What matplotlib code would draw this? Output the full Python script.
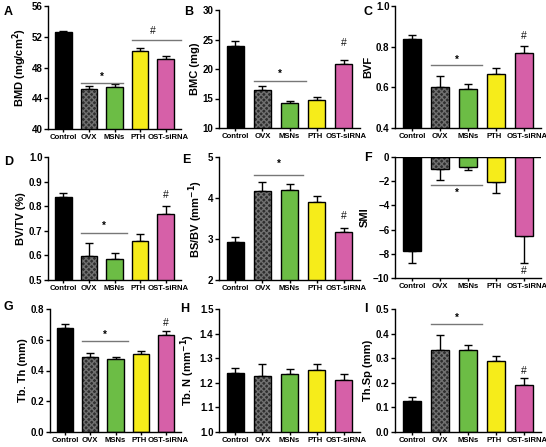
import matplotlib.pyplot as plt

plt.rcParams['font.family'] = ['Liberation Sans', 'DejaVu Sans']
plt.rcParams['font.weight'] = 'bold'

groups = ["Control", "OVX", "MSNs", "PTH", "OST-siRNA"]
colores = ["#000000", "#2e2e2e", "#6cbd45", "#f6ec1a", "#d660a8"]

bmd = [52.6, 45.2, 45.5, 50.2, 49.1]
bmd_err = [0.2, 0.4, 0.3, 0.3, 0.4]
bmc = [23.9, 16.5, 14.2, 14.8, 20.8]
bmc_err = [0.8, 0.7, 0.3, 0.5, 0.7]
bvf = [0.837, 0.600, 0.592, 0.665, 0.770]
bvf_err = [0.018, 0.055, 0.023, 0.028, 0.032]
bvtv = [0.837, 0.598, 0.587, 0.660, 0.770]
bvtv_err = [0.017, 0.053, 0.021, 0.028, 0.031]
bsbv = [2.93, 4.16, 4.20, 3.90, 3.16]
bsbv_err = [0.12, 0.23, 0.13, 0.14, 0.10]
smi = [-7.8, -1.0, -0.8, -2.05, -6.5]
smi_err = [1.0, 0.9, 0.3, 0.9, 2.25]
tbth = [0.676, 0.487, 0.475, 0.510, 0.633]
tbth_err = [0.024, 0.030, 0.016, 0.020, 0.022]
tbn = [1.238, 1.227, 1.234, 1.254, 1.213]
tbn_err = [0.023, 0.048, 0.021, 0.024, 0.022]
tbsp = [0.128, 0.335, 0.333, 0.287, 0.190]
tbsp_err = [0.015, 0.059, 0.022, 0.023, 0.030]

W, H = 546, 447
fig = plt.figure(figsize=(W / 100, H / 100), dpi=100)

# sideways nudges (points) so PTH / OST-siRNA labels don't collide
nudge = [0, 0, 0, -1.3, 1.9]

def panel(rect, letra, letra_xy, vals, errs, ylabel, ylim, yticks, star=None, hash_=None, neg=False):
    l, t, r, b = rect
    ax = fig.add_axes([l / W, 1 - b / H, (r - l) / W, (b - t) / H])
    x = list(range(len(groups)))
    ax.bar(x, vals, width=0.64, color=colores, edgecolor="#707070", linewidth=0, hatch=[None, "xxxxxx", None, None, None], zorder=2)
    ax.bar(x, vals, width=0.64, color="none", edgecolor="black", linewidth=1.0, zorder=3)
    zeros = [0] * len(vals)
    yerr = [errs, zeros] if neg else [zeros, errs]
    ax.errorbar(x, vals, yerr=yerr, fmt="none", ecolor="black", elinewidth=1.0, capsize=3, capthick=1.0, zorder=1)
    ax.set_xlim(-0.6, 4.6)
    ax.set_ylim(*ylim)
    ax.set_yticks(yticks)
    ax.set_xticks(x)
    ax.set_xticklabels([])
    for i, g in enumerate(groups):
        ax.annotate(g, xy=(i, 0), xycoords=("data", "axes fraction"), xytext=(nudge[i], -3.3),
                    textcoords="offset points", ha="center", va="top", fontsize=5.6, fontweight="bold",
                    annotation_clip=False)
    ax.tick_params(axis="y", labelsize=7, length=3, width=1, pad=1)
    ax.tick_params(axis="x", length=2, width=1)
    ax.set_ylabel(ylabel, fontsize=8, fontweight="bold", labelpad=2)
    for s in ["top", "right"]:
        ax.spines[s].set_visible(False)
    for s in ["left", "bottom"]:
        ax.spines[s].set_linewidth(1.0)
    if neg:
        ax.axhline(0, color="black", lw=1.0, zorder=4)
    if star is not None:
        x0, x1, yl, yt = star
        ax.plot([x0, x1], [yl, yl], color="#777777", lw=1.0, clip_on=False)
        ax.text((x0 + x1) / 2, yt, "*", ha="center", va="center", fontsize=7)
    if hash_ is not None:
        hx, hy, line = hash_
        if line is not None:
            ax.plot(line[:2], [line[2], line[2]], color="#777777", lw=1.0, clip_on=False)
        ax.text(hx, hy, "#", ha="center", va="center", fontsize=7.5, color="#111111", fontweight="normal")
    fig.text(letra_xy[0] / W, 1 - letra_xy[1] / H, letra, fontsize=9, fontweight="bold", ha="left", va="center")
    return ax

panel((48, 6, 181, 129), "A", (4, 12), bmd, bmd_err, "BMD (mg/cm$^\\mathbf{2}$)", (40, 56), [40, 44, 48, 52, 56],
      star=(0.68, 2.32, 46.0, 46.8), hash_=(3.5, 52.7, (2.68, 4.6, 51.6)))
panel((219, 10, 360, 128), "B", (184, 12), bmc, bmc_err, "BMC (mg)", (10, 30), [10, 15, 20, 25, 30],
      star=(0.68, 2.6, 18.0, 19.2), hash_=(4, 24.4, None))
panel((395, 6, 541, 128), "C", (364, 12), bvf, bvf_err, "BVF", (0.4, 1.0), [0.4, 0.6, 0.8, 1.0],
      star=(0.68, 2.5, 0.709, 0.737), hash_=(4, 0.854, None))
panel((48, 157, 181, 280), "D", (4, 162), bvtv, bvtv_err, "BV/TV (%)", (0.5, 1.0), [0.5, 0.6, 0.7, 0.8, 0.9, 1.0],
      star=(0.68, 2.5, 0.69, 0.72), hash_=(4, 0.845, None))
panel((219, 157, 360, 280), "E", (182, 160), bsbv, bsbv_err, "BS/BV (mm$^{\\mathbf{-1}}$)", (2, 5), [2, 3, 4, 5],
      star=(0.68, 2.5, 4.57, 4.84), hash_=(4, 3.55, None))
panel((395, 157, 541, 278), "F", (364, 158), smi, smi_err, "SMI", (-10, 0), [-10, -8, -6, -4, -2, 0],
      star=(0.68, 2.5, -2.3, -2.95), hash_=(4, -9.4, None), neg=True)
panel((50, 309, 181, 432), "G", (4, 307), tbth, tbth_err, "Tb. Th (mm)", (0, 0.8), [0.0, 0.2, 0.4, 0.6, 0.8],
      star=(0.68, 2.5, 0.59, 0.63), hash_=(4, 0.71, None))
panel((219, 309, 360, 432), "H", (180, 309), tbn, tbn_err, "Tb. N (mm$^{\\mathbf{-1}}$)", (1.0, 1.5), [1.0, 1.1, 1.2, 1.3, 1.4, 1.5])
panel((395, 309, 541, 432), "I", (364, 309), tbsp, tbsp_err, "Th.Sp (mm)", (0, 0.5), [0.0, 0.1, 0.2, 0.3, 0.4, 0.5],
      star=(0.68, 2.5, 0.44, 0.465), hash_=(4, 0.25, None))

fig.savefig("out.png", dpi=100)
